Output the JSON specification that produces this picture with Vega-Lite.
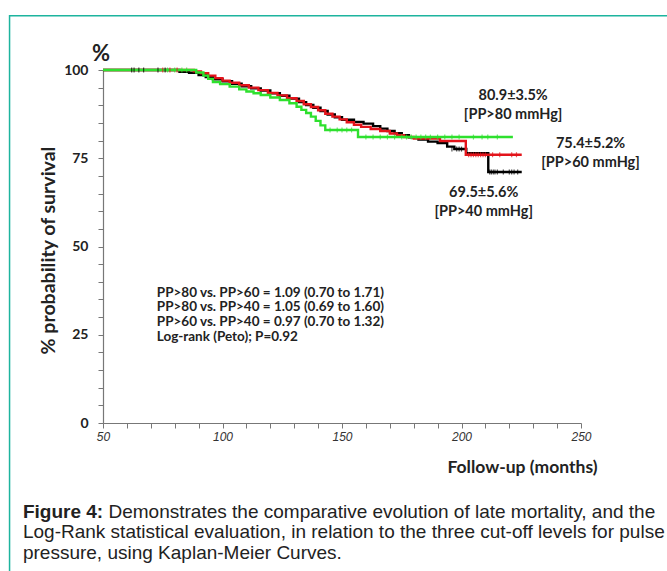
{
  "$schema": "https://vega.github.io/schema/vega-lite/v6.json",
  "width": 478,
  "height": 353,
  "autosize": {"type": "none"},
  "padding": {"left": 103, "top": 70, "right": 86, "bottom": 148},
  "background": "white",
  "config": {
    "view": {"stroke": null},
    "axis": {"grid": false, "tickSize": 5, "domainColor": "#777", "tickColor": "#777", "domainWidth": 1.2, "labelOverlap": false, "labelFlush": false},
    "axisX": {"labelFont": "Liberation Sans", "labelFontStyle": "italic", "labelFontSize": 12, "labelColor": "#333", "labelPadding": 3,
      "titleFont": "Lato", "titleFontWeight": "bold", "titleFontSize": 17.5, "titleColor": "#222", "titleX": 494, "titleY": 44, "titleAlign": "right", "titleBaseline": "middle"},
    "axisY": {"labelFont": "Lato", "labelFontWeight": "bold", "labelFontSize": 14, "labelColor": "#222", "labelPadding": 10,
      "titleFont": "Lato", "titleFontWeight": "bold", "titleFontSize": 19.5, "titleColor": "#222", "titleX": -55, "titleY": 180, "titleAngle": 270, "titleAlign": "center", "titleBaseline": "middle"}
  },
  "datasets": {
    "curves": [
      {"group": "PP>40", "month": 50, "surv": 100}, {"group": "PP>40", "month": 79, "surv": 100}, {"group": "PP>40", "month": 82, "surv": 99.5}, {"group": "PP>40", "month": 86, "surv": 99.2}, {"group": "PP>40", "month": 90, "surv": 98.6}, {"group": "PP>40", "month": 93, "surv": 98.0}, {"group": "PP>40", "month": 96, "surv": 97.4}, {"group": "PP>40", "month": 100, "surv": 96.8}, {"group": "PP>40", "month": 104, "surv": 96.1}, {"group": "PP>40", "month": 108, "surv": 95.4}, {"group": "PP>40", "month": 112, "surv": 94.8}, {"group": "PP>40", "month": 116, "surv": 94.2}, {"group": "PP>40", "month": 120, "surv": 93.4}, {"group": "PP>40", "month": 124, "surv": 92.7}, {"group": "PP>40", "month": 128, "surv": 91.9}, {"group": "PP>40", "month": 132, "surv": 90.9}, {"group": "PP>40", "month": 135, "surv": 90.1}, {"group": "PP>40", "month": 138, "surv": 89.3}, {"group": "PP>40", "month": 141, "surv": 88.4}, {"group": "PP>40", "month": 144, "surv": 87.4}, {"group": "PP>40", "month": 147, "surv": 86.6}, {"group": "PP>40", "month": 150, "surv": 85.9}, {"group": "PP>40", "month": 155, "surv": 85.3}, {"group": "PP>40", "month": 159, "surv": 84.8}, {"group": "PP>40", "month": 163, "surv": 84.1}, {"group": "PP>40", "month": 166, "surv": 83.4}, {"group": "PP>40", "month": 169, "surv": 82.7}, {"group": "PP>40", "month": 172, "surv": 82.1}, {"group": "PP>40", "month": 175, "surv": 81.5}, {"group": "PP>40", "month": 178, "surv": 80.9}, {"group": "PP>40", "month": 182, "surv": 80.3}, {"group": "PP>40", "month": 186, "surv": 79.7}, {"group": "PP>40", "month": 190, "surv": 79.3}, {"group": "PP>40", "month": 194, "surv": 78.3}, {"group": "PP>40", "month": 197, "surv": 77.6}, {"group": "PP>40", "month": 202, "surv": 76.4}, {"group": "PP>40", "month": 211.2, "surv": 71.1}, {"group": "PP>40", "month": 225.2, "surv": 71.1},
      {"group": "PP>60", "month": 50, "surv": 100}, {"group": "PP>60", "month": 85, "surv": 100}, {"group": "PP>60", "month": 88, "surv": 99.6}, {"group": "PP>60", "month": 91, "surv": 99.1}, {"group": "PP>60", "month": 94, "surv": 98.4}, {"group": "PP>60", "month": 97, "surv": 97.7}, {"group": "PP>60", "month": 100, "surv": 97.0}, {"group": "PP>60", "month": 103, "surv": 96.4}, {"group": "PP>60", "month": 107, "surv": 95.7}, {"group": "PP>60", "month": 111, "surv": 95.0}, {"group": "PP>60", "month": 115, "surv": 94.3}, {"group": "PP>60", "month": 119, "surv": 93.5}, {"group": "PP>60", "month": 123, "surv": 92.8}, {"group": "PP>60", "month": 127, "surv": 92.0}, {"group": "PP>60", "month": 131, "surv": 91.2}, {"group": "PP>60", "month": 134, "surv": 90.3}, {"group": "PP>60", "month": 137, "surv": 89.5}, {"group": "PP>60", "month": 140, "surv": 88.6}, {"group": "PP>60", "month": 143, "surv": 87.6}, {"group": "PP>60", "month": 146, "surv": 86.8}, {"group": "PP>60", "month": 149, "surv": 86.0}, {"group": "PP>60", "month": 152, "surv": 85.2}, {"group": "PP>60", "month": 155, "surv": 84.5}, {"group": "PP>60", "month": 158, "surv": 83.9}, {"group": "PP>60", "month": 162, "surv": 83.3}, {"group": "PP>60", "month": 166, "surv": 82.7}, {"group": "PP>60", "month": 170, "surv": 82.0}, {"group": "PP>60", "month": 173, "surv": 81.5}, {"group": "PP>60", "month": 176, "surv": 81.0}, {"group": "PP>60", "month": 180, "surv": 80.6}, {"group": "PP>60", "month": 191, "surv": 79.9}, {"group": "PP>60", "month": 201.8, "surv": 76.0}, {"group": "PP>60", "month": 225.2, "surv": 76.0},
      {"group": "PP>80", "month": 50, "surv": 100}, {"group": "PP>80", "month": 87, "surv": 100}, {"group": "PP>80", "month": 89, "surv": 99.3}, {"group": "PP>80", "month": 92, "surv": 98.4}, {"group": "PP>80", "month": 94, "surv": 97.5}, {"group": "PP>80", "month": 96, "surv": 96.6}, {"group": "PP>80", "month": 99, "surv": 96.0}, {"group": "PP>80", "month": 103, "surv": 95.3}, {"group": "PP>80", "month": 107, "surv": 94.5}, {"group": "PP>80", "month": 110, "surv": 93.9}, {"group": "PP>80", "month": 113, "surv": 93.4}, {"group": "PP>80", "month": 116, "surv": 92.9}, {"group": "PP>80", "month": 120, "surv": 92.2}, {"group": "PP>80", "month": 124, "surv": 91.5}, {"group": "PP>80", "month": 128, "surv": 90.6}, {"group": "PP>80", "month": 131, "surv": 89.6}, {"group": "PP>80", "month": 133, "surv": 88.7}, {"group": "PP>80", "month": 135, "surv": 87.8}, {"group": "PP>80", "month": 137, "surv": 86.8}, {"group": "PP>80", "month": 139, "surv": 85.6}, {"group": "PP>80", "month": 141, "surv": 84.3}, {"group": "PP>80", "month": 143, "surv": 83.0}, {"group": "PP>80", "month": 156.7, "surv": 81.0}, {"group": "PP>80", "month": 221.5, "surv": 81.0}
    ],
    "censor": [
      {"group": "PP>40", "month": 62, "surv": 100}, {"group": "PP>40", "month": 63, "surv": 100}, {"group": "PP>40", "month": 65, "surv": 100}, {"group": "PP>40", "month": 67, "surv": 100},
      {"group": "PP>40", "month": 73, "surv": 100}, {"group": "PP>60", "month": 75, "surv": 100}, {"group": "PP>40", "month": 76, "surv": 100}, {"group": "PP>80", "month": 77, "surv": 100}, {"group": "PP>60", "month": 78, "surv": 100}, {"group": "PP>80", "month": 80, "surv": 100}, {"group": "PP>60", "month": 81, "surv": 100}, {"group": "PP>80", "month": 83, "surv": 100}, {"group": "PP>80", "month": 85, "surv": 100},
      {"group": "PP>80", "month": 145, "surv": 83}, {"group": "PP>80", "month": 148, "surv": 83}, {"group": "PP>80", "month": 150, "surv": 83}, {"group": "PP>80", "month": 152, "surv": 83}, {"group": "PP>80", "month": 154, "surv": 83},
      {"group": "PP>80", "month": 160, "surv": 81}, {"group": "PP>80", "month": 163, "surv": 81}, {"group": "PP>80", "month": 166, "surv": 81}, {"group": "PP>80", "month": 169, "surv": 81}, {"group": "PP>80", "month": 172, "surv": 81}, {"group": "PP>80", "month": 175, "surv": 81}, {"group": "PP>80", "month": 177, "surv": 81}, {"group": "PP>80", "month": 179, "surv": 81}, {"group": "PP>80", "month": 181, "surv": 81}, {"group": "PP>80", "month": 183, "surv": 81}, {"group": "PP>80", "month": 185, "surv": 81}, {"group": "PP>80", "month": 187, "surv": 81}, {"group": "PP>80", "month": 190, "surv": 81}, {"group": "PP>80", "month": 193, "surv": 81}, {"group": "PP>80", "month": 196, "surv": 81}, {"group": "PP>80", "month": 199, "surv": 81}, {"group": "PP>80", "month": 205, "surv": 81}, {"group": "PP>80", "month": 208.6, "surv": 81}, {"group": "PP>80", "month": 211, "surv": 81}, {"group": "PP>80", "month": 215, "surv": 81},
      {"group": "PP>40", "month": 196, "surv": 77.6}, {"group": "PP>40", "month": 198, "surv": 77.6}, {"group": "PP>40", "month": 199, "surv": 77.6}, {"group": "PP>40", "month": 200, "surv": 77.6},
      {"group": "PP>60", "month": 203, "surv": 76}, {"group": "PP>60", "month": 204, "surv": 76}, {"group": "PP>60", "month": 205, "surv": 76}, {"group": "PP>60", "month": 206, "surv": 76}, {"group": "PP>60", "month": 207, "surv": 76}, {"group": "PP>60", "month": 208, "surv": 76}, {"group": "PP>60", "month": 209, "surv": 76}, {"group": "PP>60", "month": 210, "surv": 76}, {"group": "PP>60", "month": 213, "surv": 76}, {"group": "PP>60", "month": 216, "surv": 76}, {"group": "PP>60", "month": 221, "surv": 76}, {"group": "PP>60", "month": 223, "surv": 76},
      {"group": "PP>40", "month": 211.8, "surv": 71.1}, {"group": "PP>40", "month": 212.5, "surv": 71.1}, {"group": "PP>40", "month": 213.3, "surv": 71.1}, {"group": "PP>40", "month": 214, "surv": 71.1}, {"group": "PP>40", "month": 215, "surv": 71.1}, {"group": "PP>40", "month": 217.5, "surv": 71.1}, {"group": "PP>40", "month": 220, "surv": 71.1}, {"group": "PP>40", "month": 221, "surv": 71.1}, {"group": "PP>40", "month": 222, "surv": 71.1}, {"group": "PP>40", "month": 223.5, "surv": 71.1}
    ]
  },
  "layer": [
    {
      "data": {"name": "curves"},
      "mark": {"type": "line", "interpolate": "step-after", "strokeWidth": 2.4},
      "encoding": {
        "x": {"field": "month", "type": "quantitative", "scale": {"domain": [50, 250], "nice": false, "zero": false},
          "axis": {"title": "Follow-up (months)", "values": [50, 60, 70, 80, 90, 100, 110, 120, 130, 140, 150, 160, 170, 180, 190, 200, 210, 220, 230, 240, 250], "labelExpr": "datum.value % 50 === 0 ? datum.label : ''"}},
        "y": {"field": "surv", "type": "quantitative", "scale": {"domain": [0, 100], "nice": false},
          "axis": {"title": "% probability of survival", "values": [0, 5, 10, 15, 20, 25, 30, 35, 40, 45, 50, 55, 60, 65, 70, 75, 80, 85, 90, 95, 100], "labelExpr": "datum.value % 25 === 0 ? datum.label : ''"}},
        "color": {"field": "group", "type": "nominal", "scale": {"domain": ["PP>40", "PP>60", "PP>80"], "range": ["#000000", "#e3141b", "#2ee02e"]}, "legend": null}
      }
    },
    {
      "data": {"name": "censor"},
      "mark": {"type": "tick", "orient": "vertical", "size": 5, "thickness": 1.2},
      "encoding": {
        "x": {"field": "month", "type": "quantitative",
          "axis": {"title": "Follow-up (months)", "values": [50, 60, 70, 80, 90, 100, 110, 120, 130, 140, 150, 160, 170, 180, 190, 200, 210, 220, 230, 240, 250], "labelExpr": "datum.value % 50 === 0 ? datum.label : ''"}},
        "y": {"field": "surv", "type": "quantitative",
          "axis": {"title": "% probability of survival", "values": [0, 5, 10, 15, 20, 25, 30, 35, 40, 45, 50, 55, 60, 65, 70, 75, 80, 85, 90, 95, 100], "labelExpr": "datum.value % 25 === 0 ? datum.label : ''"}},
        "color": {"field": "group", "type": "nominal", "legend": null}
      }
    },
    {
      "data": {"values": [{}]},
      "mark": {"type": "rect", "fillOpacity": 0, "stroke": "#1db49e", "strokeWidth": 1.5},
      "encoding": {
        "x": {"datum": 10.9, "type": "quantitative",
          "axis": {"title": "Follow-up (months)", "values": [50, 60, 70, 80, 90, 100, 110, 120, 130, 140, 150, 160, 170, 180, 190, 200, 210, 220, 230, 240, 250], "labelExpr": "datum.value % 50 === 0 ? datum.label : ''"}},
        "x2": {"datum": 400},
        "y": {"datum": 115.4, "type": "quantitative",
          "axis": {"title": "% probability of survival", "values": [0, 5, 10, 15, 20, 25, 30, 35, 40, 45, 50, 55, 60, 65, 70, 75, 80, 85, 90, 95, 100], "labelExpr": "datum.value % 25 === 0 ? datum.label : ''"}},
        "y2": {"datum": -100}
      }
    },
    {
      "data": {"values": [
        {"lines": ["80.9±3.5%", "[PP>80 mmHg]"], "month": 221.6, "surv": 91.4},
        {"lines": ["75.4±5.2%", "[PP>60 mmHg]"], "month": 254.0, "surv": 77.85},
        {"lines": ["69.5±5.6%", "[PP>40 mmHg]"], "month": 209.3, "surv": 64.0}
      ]},
      "mark": {"type": "text", "font": "Lato", "fontWeight": "bold", "fontSize": 14.5, "color": "#222", "align": "center", "baseline": "alphabetic", "lineHeight": 19},
      "encoding": {
        "text": {"field": "lines"},
        "x": {"field": "month", "type": "quantitative",
          "axis": {"title": "Follow-up (months)", "values": [50, 60, 70, 80, 90, 100, 110, 120, 130, 140, 150, 160, 170, 180, 190, 200, 210, 220, 230, 240, 250], "labelExpr": "datum.value % 50 === 0 ? datum.label : ''"}},
        "y": {"field": "surv", "type": "quantitative",
          "axis": {"title": "% probability of survival", "values": [0, 5, 10, 15, 20, 25, 30, 35, 40, 45, 50, 55, 60, 65, 70, 75, 80, 85, 90, 95, 100], "labelExpr": "datum.value % 25 === 0 ? datum.label : ''"}}
      }
    },
    {
      "data": {"values": [{}]},
      "mark": {"type": "text", "text": ["PP>80 vs. PP>60 = 1.09 (0.70 to 1.71)", "PP>80 vs. PP>40 = 1.05 (0.69 to 1.60)", "PP>60 vs. PP>40 = 0.97 (0.70 to 1.32)", "Log-rank (Peto); P=0.92"], "font": "Lato", "fontWeight": "bold", "fontSize": 13.5, "color": "#222", "align": "left", "baseline": "alphabetic", "lineHeight": 14.8},
      "encoding": {
        "x": {"datum": 72.5, "type": "quantitative",
          "axis": {"title": "Follow-up (months)", "values": [50, 60, 70, 80, 90, 100, 110, 120, 130, 140, 150, 160, 170, 180, 190, 200, 210, 220, 230, 240, 250], "labelExpr": "datum.value % 50 === 0 ? datum.label : ''"}},
        "y": {"datum": 35.8, "type": "quantitative",
          "axis": {"title": "% probability of survival", "values": [0, 5, 10, 15, 20, 25, 30, 35, 40, 45, 50, 55, 60, 65, 70, 75, 80, 85, 90, 95, 100], "labelExpr": "datum.value % 25 === 0 ? datum.label : ''"}}
      }
    },
    {
      "data": {"values": [{}]},
      "mark": {"type": "text", "text": "%", "font": "Lato", "fontWeight": "bold", "fontSize": 22, "color": "#222", "align": "center", "baseline": "alphabetic"},
      "encoding": {
        "x": {"datum": 49.2, "type": "quantitative",
          "axis": {"title": "Follow-up (months)", "values": [50, 60, 70, 80, 90, 100, 110, 120, 130, 140, 150, 160, 170, 180, 190, 200, 210, 220, 230, 240, 250], "labelExpr": "datum.value % 50 === 0 ? datum.label : ''"}},
        "y": {"datum": 102.55, "type": "quantitative",
          "axis": {"title": "% probability of survival", "values": [0, 5, 10, 15, 20, 25, 30, 35, 40, 45, 50, 55, 60, 65, 70, 75, 80, 85, 90, 95, 100], "labelExpr": "datum.value % 25 === 0 ? datum.label : ''"}}
      }
    },
    {
      "data": {"values": [{}]},
      "mark": {"type": "text", "text": "Figure 4:", "font": "Liberation Sans", "fontWeight": "bold", "fontSize": 19, "color": "#222", "align": "left", "baseline": "alphabetic"},
      "encoding": {
        "x": {"datum": 16.5, "type": "quantitative",
          "axis": {"title": "Follow-up (months)", "values": [50, 60, 70, 80, 90, 100, 110, 120, 130, 140, 150, 160, 170, 180, 190, 200, 210, 220, 230, 240, 250], "labelExpr": "datum.value % 50 === 0 ? datum.label : ''"}},
        "y": {"datum": -26.9, "type": "quantitative",
          "axis": {"title": "% probability of survival", "values": [0, 5, 10, 15, 20, 25, 30, 35, 40, 45, 50, 55, 60, 65, 70, 75, 80, 85, 90, 95, 100], "labelExpr": "datum.value % 25 === 0 ? datum.label : ''"}}
      }
    },
    {
      "data": {"values": [{}]},
      "mark": {"type": "text", "text": "Demonstrates the comparative evolution of late mortality, and the", "font": "Liberation Sans", "fontSize": 19, "color": "#222", "align": "left", "baseline": "alphabetic"},
      "encoding": {
        "x": {"datum": 52.3, "type": "quantitative",
          "axis": {"title": "Follow-up (months)", "values": [50, 60, 70, 80, 90, 100, 110, 120, 130, 140, 150, 160, 170, 180, 190, 200, 210, 220, 230, 240, 250], "labelExpr": "datum.value % 50 === 0 ? datum.label : ''"}},
        "y": {"datum": -26.9, "type": "quantitative",
          "axis": {"title": "% probability of survival", "values": [0, 5, 10, 15, 20, 25, 30, 35, 40, 45, 50, 55, 60, 65, 70, 75, 80, 85, 90, 95, 100], "labelExpr": "datum.value % 25 === 0 ? datum.label : ''"}}
      }
    },
    {
      "data": {"values": [{}]},
      "mark": {"type": "text", "text": ["Log-Rank statistical evaluation, in relation to the three cut-off levels for pulse", "pressure, using Kaplan-Meier Curves."], "font": "Liberation Sans", "fontSize": 19, "color": "#222", "align": "left", "baseline": "alphabetic", "lineHeight": 20.5},
      "encoding": {
        "x": {"datum": 16.5, "type": "quantitative",
          "axis": {"title": "Follow-up (months)", "values": [50, 60, 70, 80, 90, 100, 110, 120, 130, 140, 150, 160, 170, 180, 190, 200, 210, 220, 230, 240, 250], "labelExpr": "datum.value % 50 === 0 ? datum.label : ''"}},
        "y": {"datum": -32.7, "type": "quantitative",
          "axis": {"title": "% probability of survival", "values": [0, 5, 10, 15, 20, 25, 30, 35, 40, 45, 50, 55, 60, 65, 70, 75, 80, 85, 90, 95, 100], "labelExpr": "datum.value % 25 === 0 ? datum.label : ''"}}
      }
    }
  ]
}
